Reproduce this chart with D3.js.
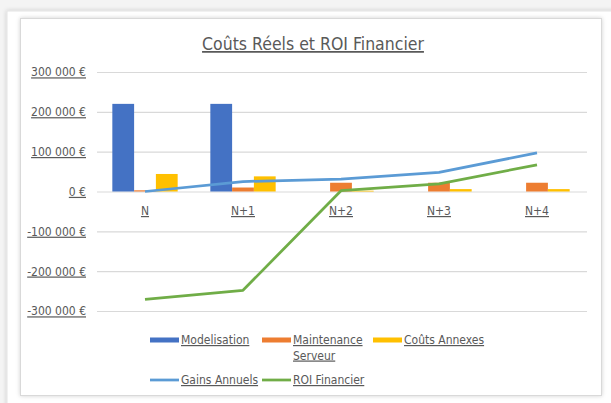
<!DOCTYPE html>
<html>
<head>
<meta charset="utf-8">
<script src="https://cdn.jsdelivr.net/npm/d3@7"></script>
<style>
	body { margin: 0; background: #f4f4f4; }
	svg text { font-family: "Liberation Sans Narrow", "DejaVu Sans Condensed", sans-serif; fill: #595959; }
</style>
</head>
<body>
<script>
const categories = ["N", "N+1", "N+2", "N+3", "N+4"];
const modelisation = [220000, 220000, 0, 0, 0];
const maintenance = [3000, 10000, 22000, 22000, 22000];
const annexes = [44000, 38000, 2000, 6000, 6000];
const gains = [0, 25000, 31000, 48000, 97000];
const roi = [-271000, -248000, 2000, 19000, 67000];
const yTicks = [-300000, -200000, -100000, 0, 100000, 200000, 300000];

const barSeries = [
	{ name: "Modelisation", values: modelisation, color: "#4472C4" },
	{ name: "Maintenance Serveur", values: maintenance, color: "#ED7D31" },
	{ name: "Coûts Annexes", values: annexes, color: "#FFC000" }
];
const lineSeries = [
	{ name: "Gains Annuels", values: gains, color: "#5B9BD5" },
	{ name: "ROI Financier", values: roi, color: "#70AD47" }
];

const W = 611, H = 403;
const svg = d3.select("body").append("svg")
	.attr("width", W)
	.attr("height", H)
	.style("display", "block");

const defs = svg.append("defs");
const shadow = defs.append("filter").attr("id", "shadow")
	.attr("x", "-5%").attr("y", "-5%").attr("width", "110%").attr("height", "110%");
shadow.append("feDropShadow")
	.attr("dx", 0).attr("dy", 0).attr("stdDeviation", 2)
	.attr("flood-color", "#000").attr("flood-opacity", 0.18);

// carte extérieure + cadre du graphique
svg.append("rect")
	.attr("x", 7).attr("y", 11).attr("width", W).attr("height", H)
	.attr("fill", "#fff").attr("stroke", "#e3e3e3")
	.attr("filter", "url(#shadow)");
svg.append("rect")
	.attr("x", 20.5).attr("y", 18.5).attr("width", 581).attr("height", 377)
	.attr("fill", "#fff").attr("stroke", "#d9d9d9")
	.attr("filter", "url(#shadow)");

const plot = { left: 96, right: 586, top: 72, bottom: 311 };

const x0 = d3.scaleBand()
	.domain(categories)
	.range([plot.left, plot.right]);
const bw = x0.bandwidth();
const barW = bw / 4.5;
const x1 = d3.scaleBand()
	.domain(barSeries.map(s => s.name))
	.range([barW * 0.75, bw - barW * 0.75]);

const y = d3.scaleLinear()
	.domain([-300000, 300000])
	.range([plot.bottom, plot.top]);

const fmt = v => d3.format(",")(v).replace(/,/g, " ").replace("−", "-") + " €";

// grille
svg.append("g")
	.attr("transform", `translate(${plot.left + 1},0)`)
	.call(d3.axisLeft(y).tickValues(yTicks).tickSize(-(plot.right - plot.left)).tickFormat(""))
	.call(g => g.select(".domain").remove())
	.call(g => g.selectAll("line").attr("stroke", "#d9d9d9").attr("stroke-width", 1.2));

// axe Y
svg.append("g")
	.attr("transform", "translate(86,0)")
	.call(d3.axisLeft(y).tickValues(yTicks).tickSize(0).tickPadding(0).tickFormat(fmt))
	.call(g => g.select(".domain").remove())
	.call(g => g.selectAll("text")
		.attr("font-size", "12px")
		.attr("fill", "#595959")
		.style("text-decoration", "underline"));

// barres
barSeries.forEach(s => {
	svg.append("g").selectAll("rect")
		.data(s.values.map((v, i) => ({ cat: categories[i], v })))
		.join("rect")
		.attr("x", d => x0(d.cat) + x1(s.name))
		.attr("y", d => y(Math.max(0, d.v)))
		.attr("width", x1.bandwidth())
		.attr("height", d => Math.abs(y(d.v) - y(0)))
		.attr("fill", s.color);
});

// libellés X
svg.append("g").selectAll("text")
	.data(categories)
	.join("text")
	.attr("x", d => x0(d) + bw / 2)
	.attr("y", 215)
	.attr("text-anchor", "middle")
	.attr("font-size", "12px")
	.style("text-decoration", "underline")
	.text(d => d);

// courbes
const line = d3.line()
	.x((d, i) => x0(categories[i]) + bw / 2)
	.y(d => y(d));
lineSeries.forEach(s => {
	svg.append("path")
		.datum(s.values)
		.attr("d", line)
		.attr("fill", "none")
		.attr("stroke", s.color)
		.attr("stroke-width", 2.75)
		.attr("stroke-linejoin", "round");
});

// titre
svg.append("text")
	.attr("x", 313)
	.attr("y", 50)
	.attr("text-anchor", "middle")
	.attr("font-size", "17.5px")
	.style("text-decoration", "underline")
	.text("Coûts Réels et ROI Financier");

// légende
const legendItems = [
	{ s: barSeries[0], type: "bar", x: 150, y: 340 },
	{ s: barSeries[1], type: "bar", x: 262, y: 340 },
	{ s: barSeries[2], type: "bar", x: 373, y: 340 },
	{ s: lineSeries[0], type: "line", x: 150, y: 380 },
	{ s: lineSeries[1], type: "line", x: 262, y: 380 }
];
const legend = svg.append("g");
legendItems.forEach(it => {
	if (it.type === "bar") {
		legend.append("rect")
			.attr("x", it.x).attr("y", it.y - 2.5)
			.attr("width", 29).attr("height", 5)
			.attr("fill", it.s.color);
	} else {
		legend.append("line")
			.attr("x1", it.x).attr("x2", it.x + 29)
			.attr("y1", it.y).attr("y2", it.y)
			.attr("stroke", it.s.color).attr("stroke-width", 2.75);
	}
	const words = it.s.name === "Maintenance Serveur" ? ["Maintenance", "Serveur"] : [it.s.name];
	words.forEach((w, k) => {
		legend.append("text")
			.attr("x", it.x + 31)
			.attr("y", it.y + 4 + k * 15.5)
			.attr("font-size", "12px")
			.style("text-decoration", "underline")
			.text(w);
	});
});
</script>
</body>
</html>
